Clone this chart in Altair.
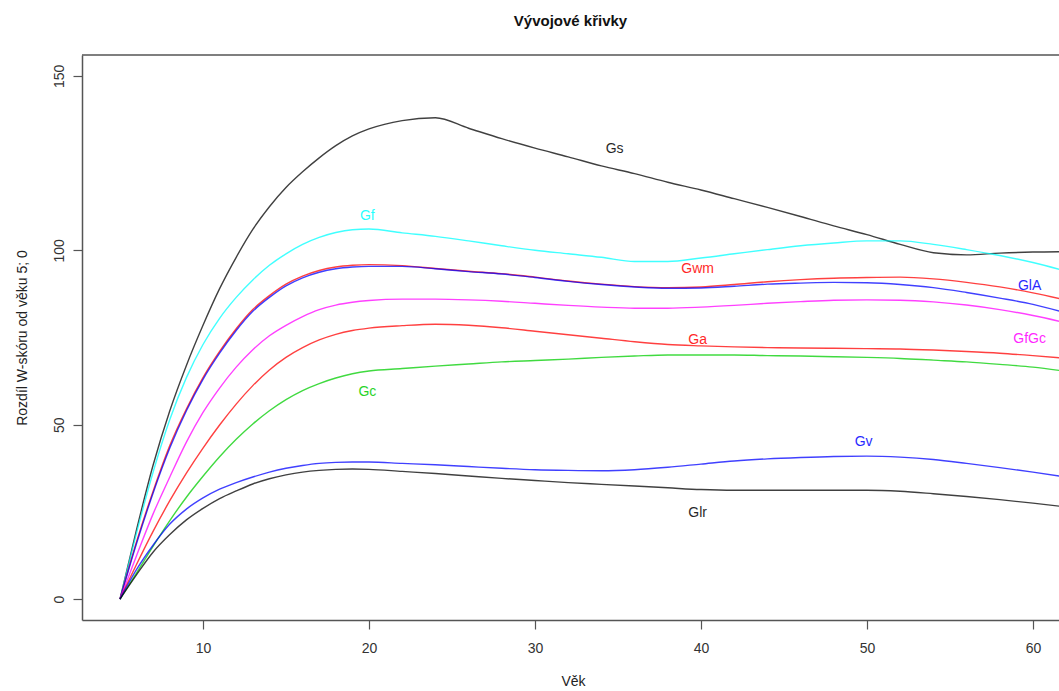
import altair as alt
import pandas as pd

# Age grid shared by all curves
ages = list(range(5, 21)) + list(range(22, 63, 2))

# Difference of W-score from age 5, per cluster
gs = [0, 20, 38.5, 54, 67, 78.5, 89, 98, 106, 112.5, 118, 122.5, 126.5, 130, 132.8, 134.8,
      137.2, 138, 135, 132, 129.3, 126.8, 124.2, 122, 119.5, 117.3, 114.8, 112.3, 109.7,
      107, 104.5, 101.7, 99.3, 98.7, 99.2, 99.5, 99.6]
gf = [0, 19, 36.5, 51.5, 63.5, 73, 80.5, 86.5, 91.5, 95.7, 99, 101.7, 103.7, 105.1, 105.9, 106.1,
      105, 104, 102.7, 101.3, 100, 99, 98, 96.8, 96.8, 97.8, 99, 100.2, 101.3,
      102.1, 102.7, 102.7, 101.7, 100.2, 98.5, 96.5, 94]
gwm = [0, 16.5, 31, 44, 54.5, 63.5, 71, 77.5, 83, 87, 90.3, 92.6, 94.2, 95.2, 95.7, 95.9,
       95.6, 94.8, 94, 93.3, 92.3, 91.2, 90.3, 89.6, 89.3, 89.5, 90.2, 91, 91.6,
       92, 92.2, 92.3, 91.8, 90.8, 89.5, 87.8, 85.7]
gla = [0, 16, 30.5, 43.3, 54, 63, 70.5, 77, 82.5, 86.5, 89.8, 92.1, 93.7, 94.7, 95.2, 95.4,
       95.4, 94.7, 93.9, 93.2, 92.2, 91.1, 90.2, 89.5, 89.1, 89.2, 89.7, 90.3, 90.6,
       90.8, 90.7, 90.2, 89.3, 87.9, 86.3, 84.5, 82]
gfgc = [0, 12.5, 24.5, 35, 45, 53.5, 60.5, 66.5, 71.5, 75.5, 78.5, 81, 83, 84.3, 85.1, 85.6,
        86, 86, 85.8, 85.4, 84.8, 84.2, 83.7, 83.4, 83.4, 83.7, 84.2, 84.8, 85.3,
        85.7, 85.8, 85.7, 85.2, 84.3, 83, 81.3, 79.2]
ga = [0, 10, 19.5, 28.2, 36.1, 43.3, 49.9, 55.9, 61.2, 65.7, 69.3, 72.1, 74.3, 75.9, 77, 77.7,
      78.4, 78.8, 78.5, 77.8, 76.8, 75.8, 74.8, 73.8, 73, 72.6, 72.3, 72.1, 72,
      71.9, 71.8, 71.7, 71.4, 71, 70.5, 69.8, 69]
gc = [0, 7.5, 15.2, 22.5, 29.2, 35.2, 40.8, 45.8, 50.2, 54, 57.2, 59.8, 61.8, 63.4, 64.6, 65.4,
      66.1, 66.8, 67.4, 68, 68.4, 68.8, 69.3, 69.7, 70, 70, 70, 69.8, 69.7,
      69.5, 69.3, 69, 68.5, 68, 67.3, 66.5, 65.3]
gv = [0, 8.5, 15.5, 21.5, 25.8, 29, 31.5, 33.4, 35, 36.4, 37.5, 38.3, 38.9, 39.2, 39.3, 39.3,
      38.9, 38.5, 38, 37.5, 37.1, 36.9, 36.8, 37.1, 37.8, 38.7, 39.6, 40.2, 40.6,
      40.9, 41, 40.7, 40, 38.9, 37.7, 36.4, 35]
glr = [0, 7, 13.5, 18.5, 22.7, 26, 28.8, 31, 33, 34.5, 35.6, 36.4, 36.9, 37.2, 37.3, 37.2,
       36.6, 36, 35.3, 34.6, 34, 33.4, 32.9, 32.4, 31.9, 31.4, 31.2, 31.2, 31.2,
       31.2, 31.2, 30.9, 30.2, 29.4, 28.5, 27.5, 26.4]

names = ["Gs", "Gf", "Gwm", "GlA", "GfGc", "Ga", "Gc", "Gv", "Glr"]
colors = ["#000000", "#00FFFF", "#FF0000", "#0000FF", "#FF00FF",
          "#FF0000", "#00CD00", "#0000FF", "#000000"]
values = [gs, gf, gwm, gla, gfgc, ga, gc, gv, glr]

# Curve labels placed inside the plot
label_names = ["Gs", "Gf", "Gwm", "GlA", "GfGc", "Ga", "Gc", "Gv", "Glr"]
label_x = [34.8, 19.9, 39.8, 59.8, 59.8, 39.8, 19.9, 49.8, 39.8]
label_y = [129.0, 109.7, 94.5, 89.7, 74.7, 74.4, 59.5, 44.9, 24.6]

rows = []
for order, (name, vals) in enumerate(zip(names, values)):
    for a, v in zip(ages, vals):
        rows.append({"vek": a, "w": v, "krivka": name, "poradi": order})
curves = pd.DataFrame(rows)
labels = pd.DataFrame({"krivka": label_names, "vek": label_x, "w": label_y})

FONT = "Liberation Sans"
W, H = 977, 565

color = alt.Color("krivka:N", scale=alt.Scale(domain=names, range=colors), legend=None)
x = alt.X("vek:Q",
          scale=alt.Scale(domain=[2.71, 61.57], nice=False, zero=False),
          axis=alt.Axis(values=[10, 20, 30, 40, 50, 60], title="Věk",
                        titleX=491, titleY=65, titleBaseline="alphabetic",
                        titleAlign="center", labelPadding=12, tickSize=9))
y = alt.Y("w:Q",
          scale=alt.Scale(domain=[-6, 156], nice=False, zero=False),
          axis=alt.Axis(values=[0, 50, 100, 150], title="Rozdíl W-skóru od věku 5; 0",
                        titleX=-56, titleY=H / 2, titleAngle=270, titleBaseline="alphabetic",
                        titleAlign="center",
                        labelAngle=270, labelAlign="center", labelBaseline="bottom",
                        labelPadding=7, tickSize=9))

lines = alt.Chart(curves).mark_line(
    interpolate="monotone", clip=True, strokeWidth=1.4, opacity=0.75
).encode(x=x, y=y, color=color, detail="krivka:N", order="vek:Q")

texts = alt.Chart(labels).mark_text(
    font=FONT, fontSize=14, align="center", baseline="middle", opacity=0.85
).encode(x="vek:Q", y="w:Q", text="krivka:N", color=color)

top_edge = alt.Chart(pd.DataFrame({"k": [0]})).mark_rule(
    color="#555555", strokeWidth=1.5
).encode(x=alt.value(0), x2=alt.value(W), y=alt.value(0))

chart = alt.layer(lines, texts, top_edge).properties(
    width=W, height=H,
    title=alt.Title("Vývojové křivky", font=FONT, fontSize=15, fontWeight="bold",
                    color="#111111", anchor="middle", baseline="alphabetic", offset=13),
    autosize="none",
    padding={"left": 82, "top": 55, "right": 0, "bottom": 69},
).configure_view(stroke=None).configure_axis(
    grid=False, domainColor="#555555", domainWidth=1.5, tickColor="#555555",
    tickWidth=1.2, labelFont=FONT, labelFontSize=14, labelColor="#333333",
    titleFont=FONT, titleFontSize=14, titleFontWeight="normal", titleColor="#222222",
)

chart.save("out.html", embed_options={"renderer": "svg", "actions": False})
